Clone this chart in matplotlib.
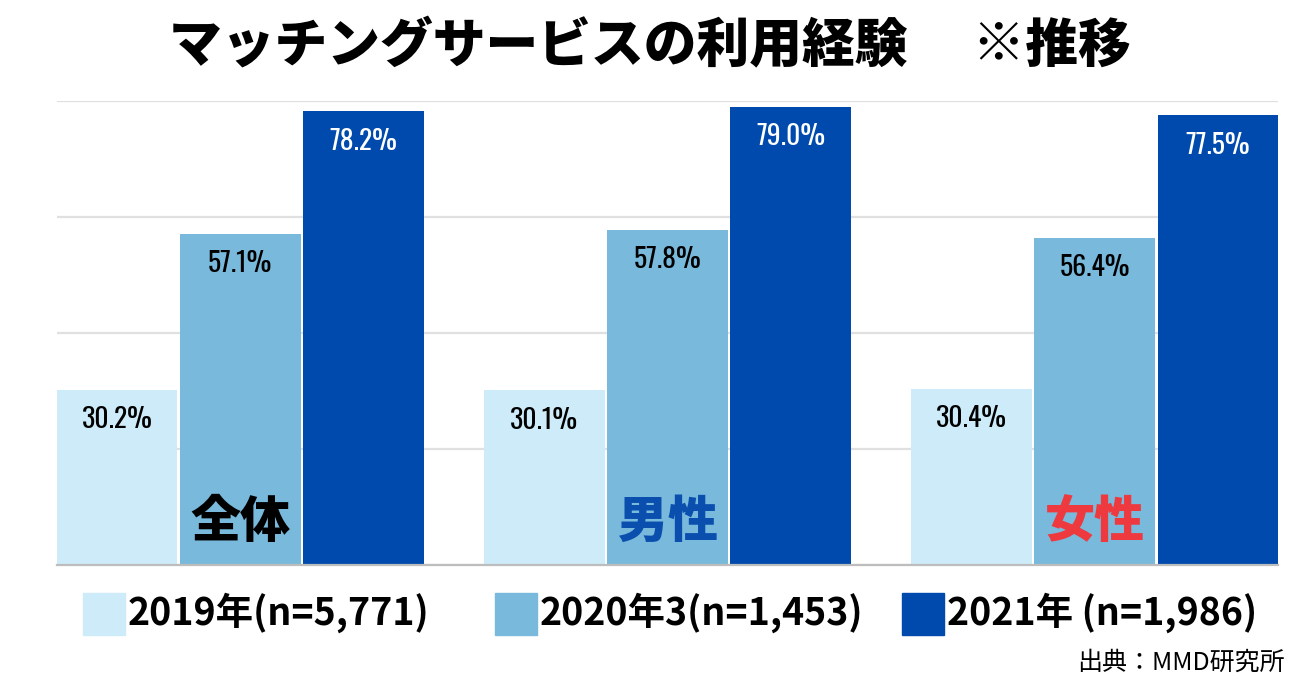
import matplotlib
matplotlib.use("Agg")
import matplotlib.pyplot as plt
from matplotlib.patches import Rectangle
import numpy as np

plt.rcParams['font.family'] = ['Noto Sans CJK JP', 'DejaVu Sans']

categories = ["全体", "男性", "女性"]
category_colors = ["#000000", "#0a4fae", "#ee3a3f"]
series_names = ["2019年(n=5,771)", "2020年3(n=1,453)", "2021年 (n=1,986)"]
series_colors = ["#cdebf8", "#78b9dc", "#004aad"]
values_2019 = [30.2, 30.1, 30.4]
values_2020 = [57.1, 57.8, 56.4]
values_2021 = [78.2, 79.0, 77.5]
series_values = [values_2019, values_2020, values_2021]
title = "マッチングサービスの利用経験　 ※推移"
source = "出典：MMD研究所"

fig = plt.figure(figsize=(13, 6.83), dpi=100)
ax = fig.add_axes([57/1300, (683-565)/683, (1278-57)/1300, (565-101)/683])

x = np.arange(len(categories))
step = 0.2885
width = 0.283
label_colors = ["#000000", "#000000", "#ffffff"]
for i, (vals, col) in enumerate(zip(series_values, series_colors)):
    xs = x + (i - 1) * step
    ax.bar(xs, vals, width=width, color=col, zorder=2)
    for xi, v in zip(xs, vals):
        ax.annotate(f"{v:.1f}%", (xi, v), xytext=(0, -30), textcoords="offset pixels",
                    ha="center", va="center", fontsize=20, color=label_colors[i],
                    family=["Oswald", "DejaVu Sans"], fontweight="light", zorder=3)

for xi, cat, c in zip(x, categories, category_colors):
    ax.text(xi, 7.5, cat, ha="center", va="center", fontsize=36, fontweight="black",
            color=c, zorder=4)

ax.set_xlim(-0.429, 2.429)
ax.set_ylim(0, 80)
ax.set_yticks([0, 20, 40, 60, 80])
ax.grid(axis="y", color="#e0e0e0", linewidth=1.6, zorder=0)
ax.tick_params(left=False, bottom=False, labelleft=False, labelbottom=False)
for s in ["left", "right", "top"]:
    ax.spines[s].set_visible(False)
ax.spines["bottom"].set_color("#bdbdbd")
ax.spines["bottom"].set_linewidth(1.6)
ax.spines["bottom"].set_zorder(5)

fig.text(650/1300, 1 - 47/683, title, ha="center", va="center", fontsize=38,
         fontweight="black")

# legend
sq = [83, 495, 902]
for left, name, col in zip(sq, series_names, series_colors):
    fig.patches.append(Rectangle((left/1300, 1 - 635/683), 42/1300, 42/683,
                                 transform=fig.transFigure, color=col))
    fig.text((left + 45)/1300, 1 - 613/683, name, ha="left", va="center",
             fontsize=27, fontweight="bold")

fig.text(1285/1300, 1 - 663/683, source, ha="right", va="center", fontsize=18)

fig.savefig("out.png", dpi=100)
